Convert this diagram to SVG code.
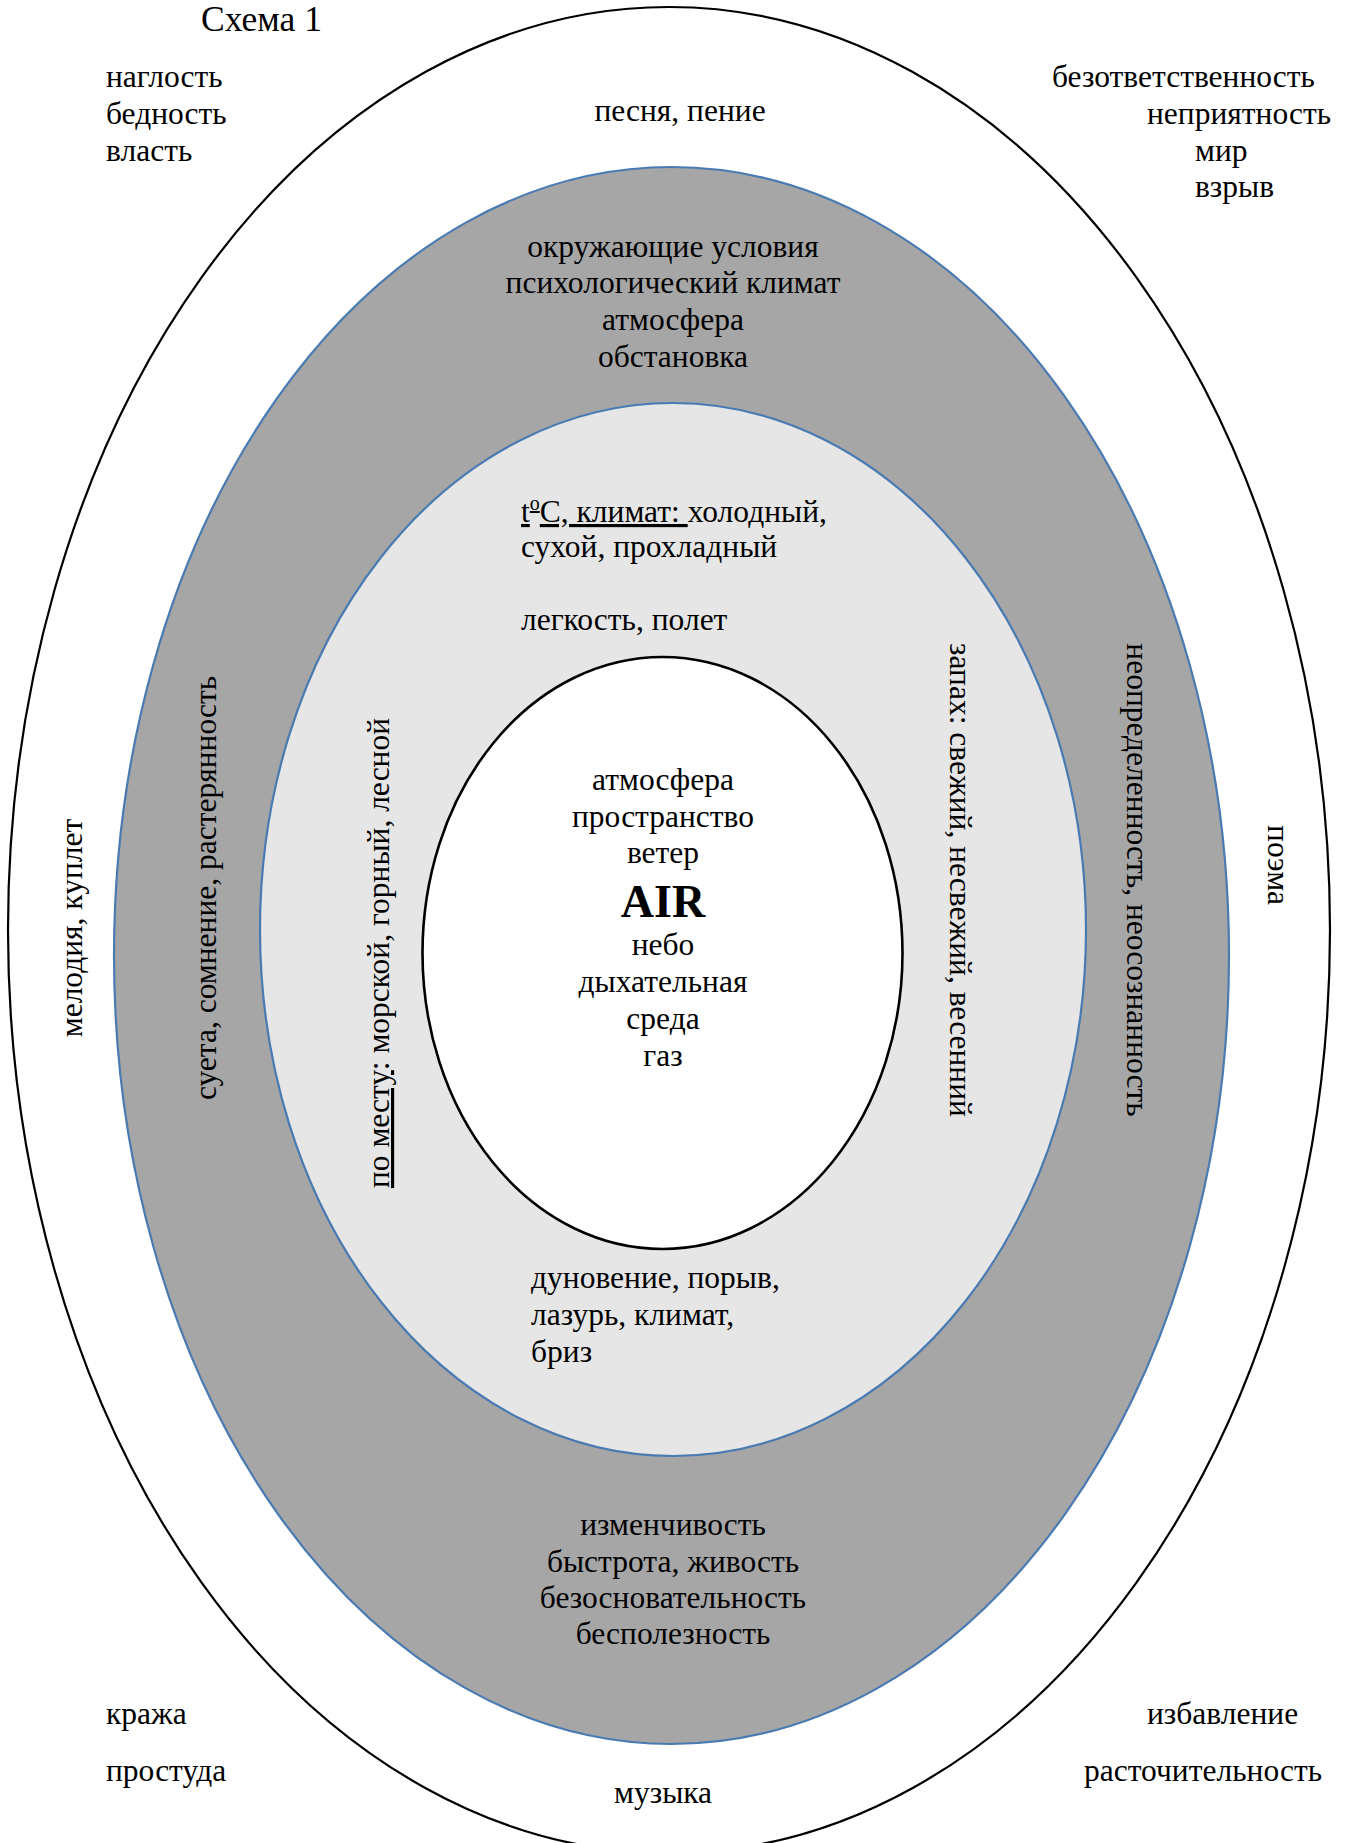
<svg xmlns="http://www.w3.org/2000/svg" width="1345" height="1843" viewBox="0 0 1345 1843">
  <style>
    text { font-family: "Liberation Serif", "Times New Roman", serif; font-size: 31.5px; fill: #000; }
    .mid { text-anchor: middle; }
    .title { font-size: 35.5px; }
    .core { font-size: 46px; font-weight: bold; }
    .ring-outer { fill: #fff; stroke: #000; stroke-width: 2.2; }
    .ring-gray { fill: #a6a6a6; stroke: #4a7ab2; stroke-width: 2.2; }
    .ring-light { fill: #e6e6e6; stroke: #4a7ab2; stroke-width: 2.2; }
    .ring-core { fill: #fff; stroke: #000; stroke-width: 2.6; }
    .ul { text-decoration: underline; }
  </style>

  <rect width="1345" height="1843" fill="#fff"/>

  <text id="title" class="title" x="201" y="31">Схема 1</text>

  <!-- outer ring: associations -->
  <g id="outer">
    <ellipse class="ring-outer" cx="669" cy="930" rx="661" ry="923"/>
    <text x="106" y="87">наглость</text>
    <text x="106" y="124">бедность</text>
    <text x="106" y="161">власть</text>
    <text class="mid" x="680" y="121">песня, пение</text>
    <text x="1052" y="87">безответственность</text>
    <text x="1147" y="124">неприятность</text>
    <text x="1195" y="161">мир</text>
    <text x="1195" y="197">взрыв</text>
    <text class="mid" transform="translate(82,928) rotate(-90)">мелодия, куплет</text>
    <text class="mid" transform="translate(1268,865) rotate(90)">поэма</text>
    <text x="106" y="1724">кража</text>
    <text x="106" y="1781">простуда</text>
    <text x="1147" y="1724">избавление</text>
    <text x="1084" y="1781">расточительность</text>
    <text x="614" y="1803">музыка</text>
  </g>

  <!-- gray ring: figurative meanings -->
  <g id="figurative">
    <ellipse class="ring-gray" cx="671.5" cy="955.5" rx="557.5" ry="788.5"/>
    <text class="mid" x="673" y="257">окружающие условия</text>
    <text class="mid" x="673" y="293">психологический климат</text>
    <text class="mid" x="673" y="330">атмосфера</text>
    <text class="mid" x="673" y="367">обстановка</text>
    <text class="mid" transform="translate(216,888) rotate(-90)">суета, сомнение, растерянность</text>
    <text class="mid" transform="translate(1127,880) rotate(90)">неопределенность, неосознанность</text>
    <text class="mid" x="673" y="1535">изменчивость</text>
    <text class="mid" x="673" y="1572">быстрота, живость</text>
    <text class="mid" x="673" y="1608">безосновательность</text>
    <text class="mid" x="673" y="1644">бесполезность</text>
  </g>

  <!-- light ring: physical properties -->
  <g id="physical">
    <ellipse class="ring-light" cx="673" cy="929.5" rx="413" ry="526.5"/>
    <text x="521" y="522"><tspan class="ul">t<tspan dy="-12" font-size="20">o</tspan><tspan dy="12">C, климат: </tspan></tspan>холодный,</text>
    <text x="521" y="557">сухой, прохладный</text>
    <text x="521" y="630">легкость, полет</text>
    <text transform="translate(389,953) rotate(-90)" text-anchor="middle"><tspan class="ul">по месту</tspan>: морской, горный, лесной</text>
    <text class="mid" transform="translate(950,880) rotate(90)">запах: свежий, несвежий, весенний</text>
    <text x="531" y="1288">дуновение, порыв,</text>
    <text x="531" y="1325">лазурь, климат,</text>
    <text x="531" y="1362">бриз</text>
  </g>

  <!-- core: AIR and its direct senses -->
  <g id="core">
    <ellipse class="ring-core" cx="662.5" cy="953" rx="240" ry="296"/>
    <text class="mid" x="663" y="790">атмосфера</text>
    <text class="mid" x="663" y="827">пространство</text>
    <text class="mid" x="663" y="863">ветер</text>
    <text class="mid core" x="663" y="917">AIR</text>
    <text class="mid" x="663" y="955">небо</text>
    <text class="mid" x="663" y="992">дыхательная</text>
    <text class="mid" x="663" y="1029">среда</text>
    <text class="mid" x="663" y="1066">газ</text>
  </g>
</svg>
